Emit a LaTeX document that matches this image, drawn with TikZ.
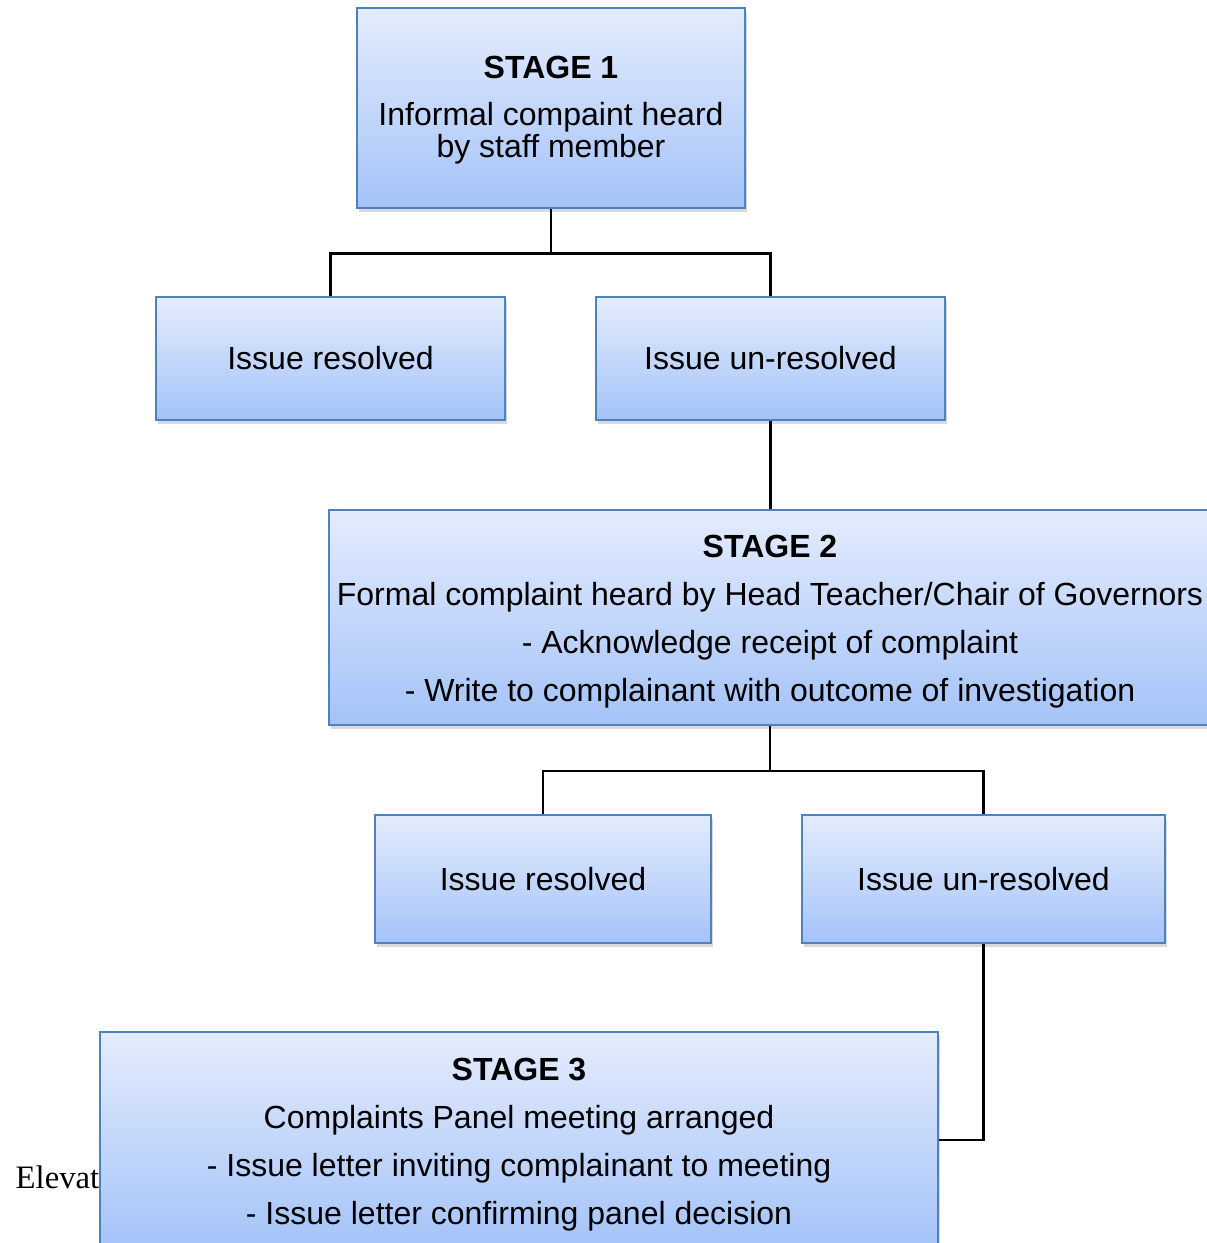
\documentclass[tikz,border=0pt]{standalone}
\usepackage{fontspec}
\setmainfont{Liberation Sans}
\newfontfamily\seriffont{Liberation Serif}
\usepackage{tikz}
\usetikzlibrary{shadows}
\definecolor{boxtop}{RGB}{228,236,253}
\definecolor{boxbottom}{RGB}{164,195,248}
\definecolor{boxline}{RGB}{79,129,189}
\newcommand{\tightlines}{\lineskiplimit=-10pt\relax}
\newcommand{\toppad}[1]{\rule{0pt}{#1}}
\tikzstyle{box} = [rectangle, draw=boxline, line width=0.6pt, top color=boxtop, bottom color=boxbottom, align=center, inner sep=0, drop shadow={opacity=0.3, shadow xshift=0.02cm, shadow yshift=-0.04cm}]
\tikzstyle{issue} = [box, font=\fontsize{9.1}{11}\selectfont]
\tikzstyle{stage} = [box, font=\fontsize{9.1}{13.66}\selectfont]
\tikzstyle{link} = [-, line width=0.75pt, draw=black]

\begin{document}
\begin{tikzpicture}[x=0.01cm, y=-0.01cm]
\useasboundingbox (0,0) rectangle (1207,1243);
%\node [draw=none] at (600,0) {Complaints procedure};
\node [stage, minimum width=3.88cm, minimum height=2cm, font=\fontsize{9.1}{9.1}\selectfont\tightlines] (S1) at (551,108) {\toppad{7.6pt}{\bfseries STAGE 1}\\[4.5pt]Informal compaint heard\\by staff member};
\node [issue, minimum width=3.49cm, minimum height=1.23cm] (R1) at (330.5,358.5) {Issue resolved};
\node [issue, minimum width=3.49cm, minimum height=1.23cm] (U1) at (770.5,358.5) {Issue un-resolved};
\node [stage, minimum width=8.82cm, minimum height=2.15cm] (S2) at (770,617.5) {\toppad{8.8pt}{\bfseries STAGE 2}\\Formal complaint heard by Head Teacher/Chair of Governors\\- Acknowledge receipt of complaint\\- Write to complainant with outcome of investigation};
\node [issue, minimum width=3.36cm, minimum height=1.28cm] (R2) at (543,879) {Issue resolved};
\node [issue, minimum width=3.63cm, minimum height=1.28cm] (U2) at (983.5,879) {Issue un-resolved};
\node [anchor=base west, inner sep=0, font=\seriffont\fontsize{9.3}{11}\selectfont] (E) at (15,1188) {Elevat};
\node [stage, minimum width=8.38cm, minimum height=2.16cm] (S3) at (519,1140) {\toppad{8.8pt}{\bfseries STAGE 3}\\Complaints Panel meeting arranged\\- Issue letter inviting complainant to meeting\\- Issue letter confirming panel decision};
\draw [link] (S1.south) -- ++(0,44.5) -| (R1.north);
\draw [link] (S1.south) -- ++(0,44.5) -| (U1.north);
\draw [link] (U1.south) -- (U1.south |- S2.north);
\draw [link] (S2.south) -- ++(0,45) -| (R2.north);
\draw [link] (S2.south) -- ++(0,45) -| (U2.north);
\draw [link] (U2.south) |- (S3.east);
\end{tikzpicture}
\end{document}
